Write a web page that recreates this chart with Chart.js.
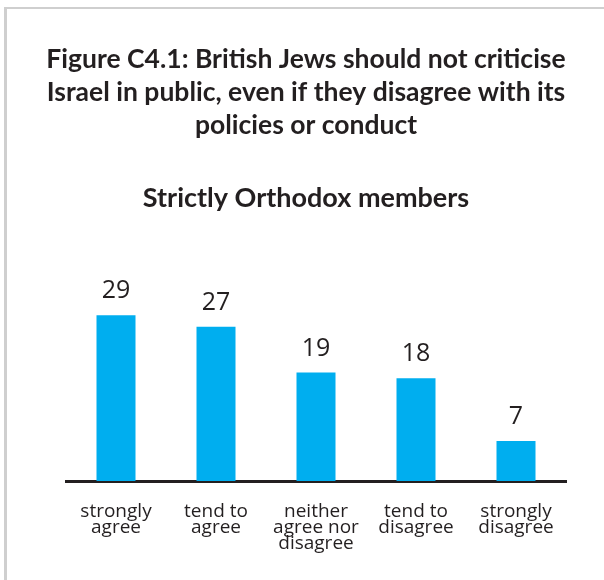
<!DOCTYPE html>
<html>
<head>
<meta charset="utf-8">
<script src="https://cdn.jsdelivr.net/npm/chart.js@4/dist/chart.umd.min.js"></script>
<style>
  html, body { margin: 0; padding: 0; background: #fff; }
  #frame {
    position: absolute; left: 4px; top: 7px; width: 600px; height: 573px;
    border-top: 2px solid #cfcfcf; border-left: 3px solid #cfcfcf;
    box-sizing: border-box;
  }
  #wrap { position: absolute; left: 0; top: 0; width: 604px; height: 580px; }
</style>
</head>
<body>
<div id="frame"></div>
<div id="wrap"><canvas id="myChart" width="604" height="580"></canvas></div>
<script>
//Chart data
var categories = [
    ['strongly', 'agree'],
    ['tend to', 'agree'],
    ['neither', 'agree nor', 'disagree'],
    ['tend to', 'disagree'],
    ['strongly', 'disagree']
];
var values = [29, 27, 19, 18, 7];
var titleLines = [
    'Figure C4.1: British Jews should not criticise',
    'Israel in public, even if they disagree with its',
    'policies or conduct'
];
var subtitleText = 'Strictly Orthodox members';

var textColor = '#231f20';
var barColor = '#00aeef';

//value labels above the bars
var valueLabels = {
    id: 'valueLabels',
    afterDatasetsDraw: function (chart) {
        var ctx = chart.ctx;
        var meta = chart.getDatasetMeta(0);
        ctx.save();
        ctx.font = '400 25px "Open Sans"';
        ctx.fillStyle = textColor;
        ctx.textAlign = 'center';
        ctx.textBaseline = 'middle';
        meta.data.forEach(function (bar, i) {
            ctx.fillText(values[i], bar.x, bar.y - 24);
        });
        ctx.restore();
    }
};

// empty side axes, only used to hold space beside the plot
function fixedWidth(w) {
    return function (scale) { scale.width = w; };
}

var ctx = document.getElementById('myChart').getContext('2d');
var chart = new Chart(ctx, {
    type: 'bar',
    data: {
        labels: categories,
        datasets: [{
            data: values,
            backgroundColor: barColor,
            barPercentage: 0.39,
            categoryPercentage: 1.0
        }]
    },
    options: {
        responsive: false,
        animation: false,
        layout: { padding: { left: 12, right: 4, top: 0, bottom: 14.5 } },
        plugins: {
            legend: { display: false },
            tooltip: { enabled: false },
            title: {
                display: true,
                text: titleLines,
                color: textColor,
                font: { family: 'Lato', size: 26.5, weight: 'bold', lineHeight: 1.245 },
                padding: { top: 43, bottom: 40 }
            },
            subtitle: {
                display: true,
                text: subtitleText,
                color: textColor,
                font: { family: 'Lato', size: 27, weight: 'bold', lineHeight: 1.2 },
                padding: { top: 0, bottom: 38 }
            }
        },
        scales: {
            x: {
                grid: { display: false },
                border: { display: true, color: textColor, width: 3 },
                ticks: {
                    color: textColor,
                    padding: 14,
                    maxRotation: 0,
                    autoSkip: false,
                    font: { family: 'Open Sans', size: 19, lineHeight: 0.85 }
                }
            },
            y: {
                display: true,
                min: 0,
                max: 40,
                grid: { display: false },
                border: { display: false },
                ticks: { display: false },
                afterFit: fixedWidth(54)
            },
            yRight: {
                display: true,
                position: 'right',
                min: 0,
                max: 40,
                grid: { display: false },
                border: { display: false },
                ticks: { display: false },
                afterFit: fixedWidth(34)
            }
        }
    },
    plugins: [valueLabels]
});
</script>
</body>
</html>
